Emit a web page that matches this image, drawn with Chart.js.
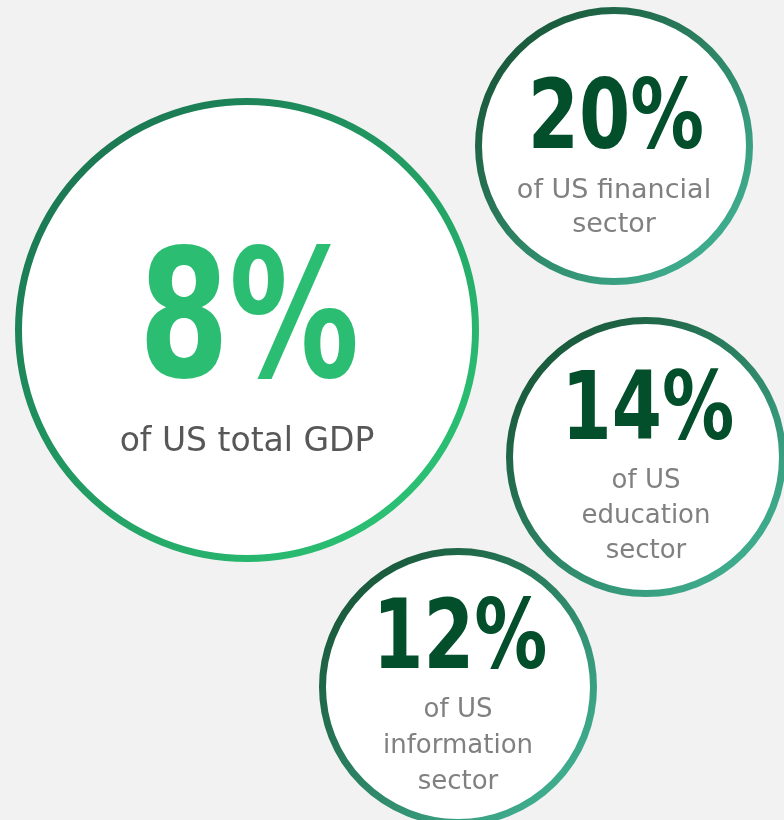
<!DOCTYPE html>
<html>
<head>
<meta charset="utf-8">
<script src="https://cdn.jsdelivr.net/npm/chart.js@4/dist/chart.umd.min.js"></script>
<style>
  html, body { margin: 0; padding: 0; background: #f2f2f2; }
  #wrap { width: 784px; height: 820px; }
</style>
</head>
<body>
<div id="wrap"><canvas id="myChart" width="784" height="820"></canvas></div>
<script>
// data
const shareValues = [8, 20, 14, 12];
const shareLabels = [
    ['of US total GDP'],
    ['of US financial', 'sector'],
    ['of US', 'education', 'sector'],
    ['of US', 'information', 'sector']
];

// layout of the circles (pixel space of the hidden axes)
const circleCenters = [[247, 330], [614, 146], [646, 457], [458, 687]];
const circleRadius = [228.5, 135.5, 136.5, 135.5];
const circleBorder = [7, 7, 7, 7];
const valueFont = [178, 97, 95, 96];
const valueSqueeze = [0.73, 0.76, 0.76, 0.76];
const valueOffset = [46, 2, -18, -19];
const labelFont = [33, 27, 26, 26];
const labelOffset = [121, 52, 31, 30];
const labelStep = [0, 34, 35, 36];
const valueColor = ['#2bbd72', '#034f2b', '#034f2b', '#034f2b'];
const labelColor = ['#575757', '#808080', '#808080', '#808080'];
const borderStops = [
    ['#1b7a54', '#2abf72'],
    ['#1a5c3d', '#3eab8c'],
    ['#1a5c3d', '#3eab8c'],
    ['#1a5c3d', '#3eab8c']
];

function ringColor(c) {
    if (c.type !== 'data' || !c.raw) return '#1b7652';
    const chart = c.chart;
    const i = c.dataIndex;
    let x = chart.scales.x ? chart.scales.x.getPixelForValue(c.raw.x) : NaN;
    let y = chart.scales.y ? chart.scales.y.getPixelForValue(c.raw.y) : NaN;
    if (!isFinite(x)) x = c.raw.x;
    if (!isFinite(y)) y = c.raw.y;
    const r = c.raw.r;
    const g = chart.ctx.createLinearGradient(x - r * 0.7, y - r * 0.7, x + r * 0.7, y + r * 0.7);
    g.addColorStop(0, borderStops[i][0]);
    g.addColorStop(1, borderStops[i][1]);
    return g;
}

const circleText = {
    id: 'circleText',
    afterDatasetsDraw(chart) {
        const ctx = chart.ctx;
        const meta = chart.getDatasetMeta(0);
        meta.data.forEach((el, i) => {
            const x = el.x, y = el.y;
            ctx.save();
            ctx.textAlign = 'center';
            ctx.textBaseline = 'alphabetic';
            // big number, narrowed to match the condensed look
            ctx.fillStyle = valueColor[i];
            ctx.font = 'bold ' + valueFont[i] + 'px "DejaVu Sans"';
            ctx.save();
            ctx.translate(x + 2, y + valueOffset[i]);
            ctx.scale(valueSqueeze[i], 1);
            ctx.fillText(shareValues[i] + '%', 0, 0);
            ctx.restore();
            // caption lines
            ctx.fillStyle = labelColor[i];
            ctx.font = labelFont[i] + 'px "DejaVu Sans"';
            shareLabels[i].forEach((line, j) => {
                ctx.fillText(line, x, y + labelOffset[i] + j * labelStep[i]);
            });
            ctx.restore();
        });
    }
};

new Chart(document.getElementById('myChart'), {
    type: 'bubble',
    data: {
        labels: shareLabels.map(l => l.join(' ')),
        datasets: [{
            data: shareValues.map((v, i) => ({ x: circleCenters[i][0], y: circleCenters[i][1], r: circleRadius[i] })),
            backgroundColor: '#ffffff',
            borderColor: ringColor,
            borderWidth: circleBorder,
            clip: false
        }]
    },
    options: {
        responsive: false,
        animation: false,
        events: [],
        layout: { padding: 0, autoPadding: false },
        plugins: {
            legend: { display: false },
            tooltip: { enabled: false }
        },
        scales: {
            x: { display: false, min: 0, max: 784 },
            y: { display: false, min: 0, max: 820, reverse: true }
        }
    },
    plugins: [circleText]
});
</script>
</body>
</html>
